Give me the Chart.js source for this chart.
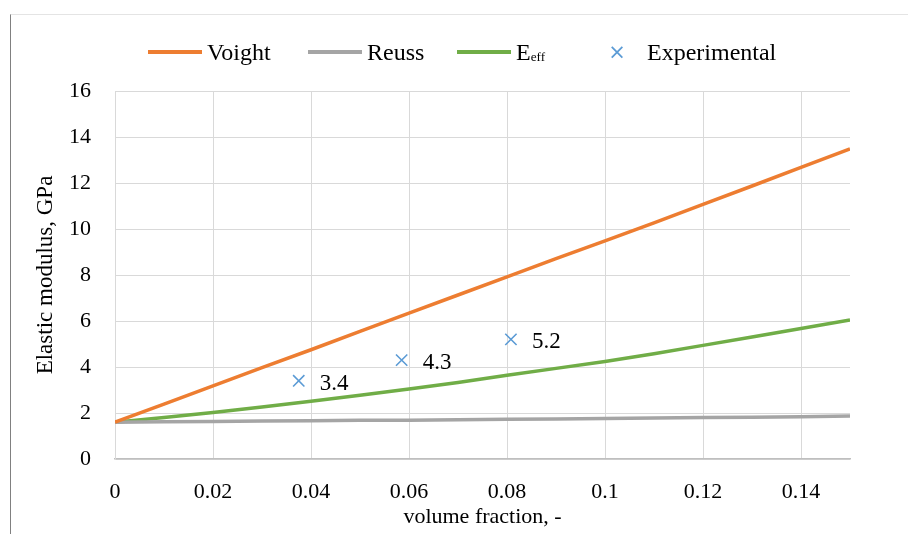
<!DOCTYPE html>
<html>
<head>
<meta charset="utf-8">
<script src="https://cdn.jsdelivr.net/npm/chart.js@4"></script>
<style>
  body { margin: 0; background: #fff; }
  #wrap { position: relative; width: 908px; height: 534px; }
  #frame { position: absolute; left: 10px; top: 14px; right: 0; bottom: 0;
           border-left: 1.5px solid #808080; border-top: 1px solid #e4e4e4; pointer-events: none; }
  #legend { position: absolute; top: 36px; left: 0; height: 32px;
            font-family: "Liberation Serif", serif; font-size: 24px; color: #000; }
  .item { position: absolute; top: 0; display: flex; align-items: center; height: 32px; white-space: nowrap; }
  .swatch { width: 54px; height: 4px; margin-right: 5px; }
  .mark { width: 54px; text-align: center; margin-right: 3px; font-family: "DejaVu Sans", sans-serif; font-size: 21px; }
  sub { font-size: 0.55em; vertical-align: -0.05em; }
</style>
</head>
<body>
<div id="wrap">
  <canvas id="modulus-chart" width="908" height="534"></canvas>
  <div id="legend"></div>
  <div id="frame"></div>
</div>
<script>
// Fraksi volume (sumbu x) untuk kurva
const volumeFraction = [0, 0.01, 0.02, 0.03, 0.04, 0.05, 0.06, 0.07, 0.08, 0.09, 0.1, 0.11, 0.12, 0.13, 0.14, 0.15];

// Nilai modulus (GPa)
const voight = [1.6, 2.39, 3.18, 3.97, 4.75, 5.55, 6.34, 7.13, 7.92, 8.71, 9.48, 10.27, 11.07, 11.87, 12.68, 13.48];
const reuss = [1.6, 1.62, 1.63, 1.65, 1.66, 1.68, 1.69, 1.71, 1.73, 1.74, 1.76, 1.78, 1.8, 1.82, 1.84, 1.87];
const eEff = [1.6, 1.8, 2.02, 2.26, 2.51, 2.77, 3.04, 3.33, 3.64, 3.94, 4.24, 4.58, 4.94, 5.3, 5.67, 6.04];

// Titik eksperimen
const expFraction = [0.0375, 0.0585, 0.0808];
const expModulus = [3.4, 4.3, 5.2];

// Label sumbu
const xTickValues = [0, 0.02, 0.04, 0.06, 0.08, 0.1, 0.12, 0.14];
const yTickValues = [0, 2, 4, 6, 8, 10, 12, 14, 16];

const FONT = "Liberation Serif";

function pairs(xs, ys) {
  return xs.map((x, i) => ({ x: x, y: ys[i] }));
}

// Plugin kecil untuk menulis nilai di samping titik eksperimen
const pointLabels = {
  id: "pointLabels",
  afterDatasetsDraw(chart) {
    const ctx = chart.ctx;
    chart.data.datasets.forEach((ds, i) => {
      if (!ds.showValues) return;
      const meta = chart.getDatasetMeta(i);
      ctx.save();
      ctx.font = "23px '" + FONT + "'";
      ctx.fillStyle = "#000";
      ctx.textAlign = "left";
      ctx.textBaseline = "middle";
      meta.data.forEach((pt, j) => {
        ctx.fillText(String(ds.data[j].y), pt.x + 21, pt.y + 3);
      });
      ctx.restore();
    });
  }
};

var canvas = document.getElementById("modulus-chart");

const chart = new Chart(canvas, {
  type: "line",
  data: {
    datasets: [{
      label: "Voight",
      data: pairs(volumeFraction, voight),
      borderColor: "#ED7D31",
      borderWidth: 3.5,
      pointRadius: 0,
      fill: false
    },
    {
      label: "Reuss",
      data: pairs(volumeFraction, reuss),
      borderColor: "#A5A5A5",
      borderWidth: 3.5,
      pointRadius: 0,
      fill: false
    },
    {
      label: "Eeff",
      data: pairs(volumeFraction, eEff),
      borderColor: "#70AD47",
      borderWidth: 3.5,
      pointRadius: 0,
      fill: false
    },
    {
      label: "Experimental",
      data: pairs(expFraction, expModulus),
      showLine: false,
      showValues: true,
      pointStyle: "crossRot",
      pointRadius: 8,
      pointBorderWidth: 1.6,
      borderColor: "#5B9BD5",
      backgroundColor: "#5B9BD5"
    }]
  },
  options: {
    responsive: false,
    animation: false,
    layout: { padding: { left: 0, top: 91, right: 58, bottom: 0 } },
    plugins: {
      legend: { display: false },
      tooltip: { enabled: false }
    },
    scales: {
      x: {
        type: "linear",
        min: 0,
        max: 0.15,
        afterBuildTicks: (scale) => {
          scale.ticks = xTickValues.map(v => ({ value: v }));
        },
        afterFit: (scale) => { scale.height = 75; },
        ticks: {
          padding: 20,
          color: "#000",
          font: { family: FONT, size: 22 },
          maxRotation: 0,
          autoSkip: false,
          callback: (v) => String(v)
        },
        grid: { color: "#d9d9d9", lineWidth: 1, drawTicks: false },
        border: { color: "#bfbfbf", width: 1.5 },
        title: {
          display: true,
          text: "volume fraction, -",
          color: "#000",
          font: { family: FONT, size: 22 },
          padding: { top: 0, bottom: 4 }
        }
      },
      y: {
        min: 0,
        max: 16,
        afterBuildTicks: (scale) => {
          scale.ticks = yTickValues.map(v => ({ value: v }));
        },
        afterFit: (scale) => { scale.width = 115; },
        ticks: {
          padding: 24,
          color: "#000",
          font: { family: FONT, size: 22 },
          callback: (v) => String(v)
        },
        grid: { color: "#d9d9d9", lineWidth: 1, drawTicks: false },
        border: { color: "#d9d9d9" },
        title: {
          display: true,
          text: "Elastic modulus, GPa",
          color: "#000",
          font: { family: FONT, size: 23 },
          padding: { top: 32, bottom: 0 }
        }
      }
    }
  },
  plugins: [pointLabels]
});

// Legenda HTML supaya "eff" bisa ditulis sebagai subskrip
const legendStarts = [148, 308, 457, 590];
const legend = document.getElementById("legend");
chart.data.datasets.forEach((ds, i) => {
  const item = document.createElement("div");
  item.className = "item";
  item.style.left = legendStarts[i] + "px";
  let sw;
  if (ds.showLine === false) {
    sw = document.createElement("span");
    sw.className = "mark";
    sw.style.color = ds.borderColor;
    sw.textContent = "\u00d7";
  } else {
    sw = document.createElement("span");
    sw.className = "swatch";
    sw.style.background = ds.borderColor;
  }
  const txt = document.createElement("span");
  txt.innerHTML = ds.label.replace(/^E(eff)$/, "E<sub>$1</sub>");
  item.appendChild(sw);
  item.appendChild(txt);
  legend.appendChild(item);
});
</script>
</body>
</html>
